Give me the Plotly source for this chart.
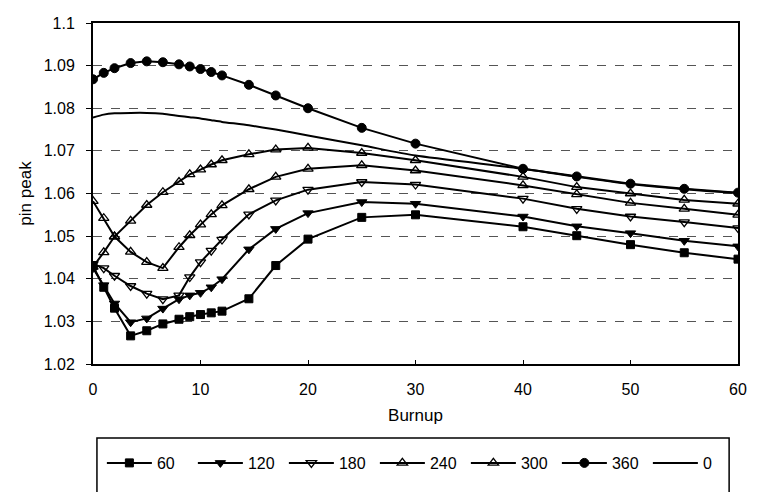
import plotly.graph_objects as go

burnup = [0, 1, 2, 3.5, 5, 6.5, 8, 9, 10, 11, 12, 14.5, 17, 20, 25, 30, 40, 45, 50, 55, 60]

s60 = [1.0430, 1.0380, 1.0331, 1.0266, 1.0278, 1.0294, 1.0305, 1.0311, 1.0316, 1.0320, 1.0324,
       1.0353, 1.0431, 1.0493, 1.0544, 1.0550, 1.0522, 1.0501, 1.0480, 1.0461, 1.0446]
s120 = [1.0425, 1.0385, 1.0342, 1.0298, 1.0307, 1.0330, 1.0352, 1.0361, 1.0367, 1.0380, 1.0399,
        1.0469, 1.0517, 1.0554, 1.0580, 1.0576, 1.0546, 1.0523, 1.0507, 1.0489, 1.0476]
s180 = [1.0435, 1.0425, 1.0407, 1.0383, 1.0365, 1.0352, 1.0361, 1.0404, 1.0439, 1.0466, 1.0492,
        1.0551, 1.0584, 1.0609, 1.0627, 1.0621, 1.0588, 1.0564, 1.0546, 1.0533, 1.0519]
s240 = [1.0582, 1.0542, 1.0499, 1.0463, 1.0439, 1.0425, 1.0474, 1.0502, 1.0527, 1.0551, 1.0572,
        1.0610, 1.0639, 1.0658, 1.0666, 1.0654, 1.0619, 1.0598, 1.0578, 1.0564, 1.0550]
s300 = [1.0428, 1.0462, 1.0499, 1.0536, 1.0573, 1.0603, 1.0627, 1.0645, 1.0656, 1.0668, 1.0678,
        1.0692, 1.0703, 1.0707, 1.0695, 1.0678, 1.0639, 1.0615, 1.0600, 1.0585, 1.0576]
s360 = [1.0868, 1.0883, 1.0894, 1.0906, 1.0910, 1.0908, 1.0903, 1.0898, 1.0892, 1.0885, 1.0877,
        1.0855, 1.0830, 1.0800, 1.0754, 1.0717, 1.0658, 1.0640, 1.0623, 1.0611, 1.0602]
s0 = [1.0778, 1.0785, 1.0788, 1.0789, 1.0789, 1.0787, 1.0782, 1.0779, 1.0776, 1.0772, 1.0768,
      1.0760, 1.0750, 1.0736, 1.0713, 1.0689, 1.0658, 1.0639, 1.0622, 1.0610, 1.0601]

series_names = ["60", "120", "180", "240", "300", "360", "0"]

y_ticks = [1.02, 1.03, 1.04, 1.05, 1.06, 1.07, 1.08, 1.09, 1.1]
y_tick_labels = ["1.02", "1.03", "1.04", "1.05", "1.06", "1.07", "1.08", "1.09", "1.1"]
x_ticks = [0, 10, 20, 30, 40, 50, 60]
x_tick_labels = ["0", "10", "20", "30", "40", "50", "60"]

styles = [
    dict(symbol="square", size=8, color="black", line=dict(color="black", width=1)),
    dict(symbol="triangle-down", size=9, color="black", line=dict(color="black", width=1)),
    dict(symbol="triangle-down-open", size=9, color="black", line=dict(color="black", width=1.3)),
    dict(symbol="triangle-up-open", size=9, color="black", line=dict(color="black", width=1.3)),
    dict(symbol="triangle-up-open", size=9, color="black", line=dict(color="black", width=1.3)),
    dict(symbol="circle", size=9, color="black", line=dict(color="black", width=1)),
]

FONT = "Liberation Sans, Arial, sans-serif"

fig = go.Figure()
all_series = [s60, s120, s180, s240, s300, s360]
for name, ys, mk in zip(series_names[:6], all_series, styles):
    fig.add_trace(go.Scatter(x=burnup, y=ys, name=name, mode="lines+markers",
                             line=dict(color="black", width=2), marker=mk))
fig.add_trace(go.Scatter(x=burnup, y=s0, name=series_names[6], mode="lines",
                         line=dict(color="black", width=2, shape="spline", smoothing=0.6)))

L, R, T, B = 93, 11, 23, 128
W, H = 758, 492
pw, ph = W - L - R, H - T - B

def px_to_paper_x(px):
    return (px - L) / pw

def px_to_paper_y(py):
    return (H - B - py) / ph

fig.add_shape(type="rect", xref="paper", yref="paper",
              x0=px_to_paper_x(97), x1=px_to_paper_x(738),
              y0=px_to_paper_y(438), y1=px_to_paper_y(510),
              line=dict(color="black", width=1.5), fillcolor="rgba(0,0,0,0)", layer="above")

fig.update_layout(
    width=W, height=H,
    margin=dict(l=L, r=R, t=T, b=B),
    paper_bgcolor="white", plot_bgcolor="white",
    font=dict(family=FONT, size=16, color="black"),
    showlegend=True,
    legend=dict(orientation="h", x=px_to_paper_x(102), y=px_to_paper_y(463),
                xanchor="left", yanchor="middle", font=dict(size=16, family=FONT),
                itemwidth=45, entrywidth=31, entrywidthmode="pixels",
                bgcolor="rgba(0,0,0,0)", borderwidth=0, traceorder="normal"),
    xaxis=dict(range=[0, 60], tickvals=x_ticks, ticktext=x_tick_labels,
               showgrid=False, zeroline=False, showline=True, linecolor="black",
               linewidth=2, mirror=True, ticks="inside", ticklen=4, tickcolor="black",
               ticklabelstandoff=10, tickfont=dict(size=16),
               title=dict(text="Burnup", font=dict(size=17, family=FONT), standoff=12)),
    yaxis=dict(range=[1.02, 1.1], tickvals=y_ticks, ticktext=y_tick_labels,
               showgrid=True, gridcolor="#555555", griddash="dash", gridwidth=1,
               zeroline=False, showline=True, linecolor="black", linewidth=2, mirror=True,
               ticks="outside", ticklen=5, tickcolor="black", ticklabelstandoff=8,
               tickfont=dict(size=16),
               title=dict(text="pin peak", font=dict(size=17, family=FONT), standoff=8)),
)

fig.write_html("out.html")
